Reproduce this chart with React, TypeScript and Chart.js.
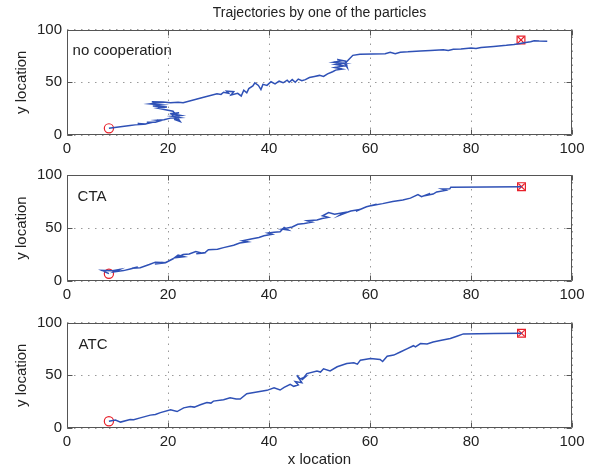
import React, { useEffect, useRef } from "react";
import { Chart, registerables } from "chart.js";
Chart.register(...registerables);

const chartTitle = "Trajectories by one of the particles";
const xAxisTitle = "x location";
const yAxisTitle = "y location";
const xTickValues = [0, 20, 40, 60, 80, 100];
const yTickValues = [0, 50, 100];
const panelLabels = ["no cooperation", "CTA", "ATC"];

// panel 1: no cooperation
const traj1X = [8.3, 12.5, 13.5, 14.8, 14.0, 15.5, 16.5, 15.8, 17.5, 18.5, 17.8, 19.2, 20.5, 22.3, 20.8, 22.5, 21.0, 22.2, 20.6, 22.0, 21.2, 22.4, 21.0, 19.5, 18.0, 19.8, 17.0, 18.8, 16.5, 18.2, 16.8, 19.0, 20.5, 22.0, 23.0, 26.5, 29.7, 30.5, 31.0, 32.0, 31.6, 33.0, 32.5, 33.8, 34.5, 35.0, 35.6, 36.0, 36.8, 37.2, 37.9, 38.4, 38.8, 39.6, 40.4, 41.2, 42.0, 42.8, 43.6, 44.0, 44.6, 45.2, 45.8, 46.5, 47.2, 48.0, 49.0, 50.0, 50.8, 51.6, 52.6, 53.2, 54.5, 53.0, 54.8, 53.2, 55.0, 52.8, 54.5, 53.5, 55.2, 55.5, 55.0, 55.8, 56.6, 58.0, 60.5, 63.0, 64.0, 65.0, 66.0, 67.5, 70.0, 72.0, 74.5, 75.5, 76.5, 78.0, 80.0, 81.0, 82.0, 84.5, 87.0, 88.5, 89.5, 90.5, 91.8, 92.5, 93.5, 95.1];
const traj1Y = [6.3, 9.0, 9.6, 10.0, 10.8, 10.5, 11.5, 12.2, 12.0, 13.5, 14.0, 14.5, 16.0, 16.5, 17.8, 18.5, 19.8, 21.0, 20.2, 13.5, 15.0, 12.8, 22.5, 24.0, 25.5, 26.5, 27.5, 28.5, 29.5, 30.5, 31.5, 31.2, 30.5, 31.0, 30.5, 35.0, 39.0, 38.5, 40.5, 39.5, 41.5, 41.0, 38.0, 39.5, 37.0, 42.5, 40.0, 44.0, 46.5, 49.5, 47.0, 43.0, 48.0, 47.0, 50.5, 48.5, 51.0, 49.5, 52.0, 50.0, 52.5, 50.0, 53.0, 51.5, 52.5, 54.5, 55.5, 56.5, 55.5, 58.0, 60.0, 61.5, 62.5, 64.0, 65.5, 67.0, 68.0, 69.0, 70.5, 71.5, 70.0, 64.0, 67.5, 71.5, 75.5, 76.5, 76.8, 77.0, 78.3, 77.0, 78.5, 78.8, 79.6, 80.2, 80.8, 80.0, 81.2, 81.5, 82.5, 82.0, 83.0, 84.0, 85.0, 85.8, 86.5, 87.5, 88.3, 89.3, 89.0, 88.8];

// panel 2: CTA
const traj2X = [8.3, 6.9, 9.0, 10.4, 9.4, 11.2, 12.7, 14.0, 12.9, 14.5, 16.3, 17.5, 18.9, 17.4, 19.5, 21.0, 22.0, 23.2, 21.8, 23.0, 24.2, 25.5, 26.8, 25.6, 27.4, 28.0, 29.8, 31.0, 33.0, 34.2, 35.8, 34.8, 36.7, 38.0, 39.0, 40.6, 39.8, 41.0, 42.2, 43.0, 43.8, 42.6, 44.6, 45.7, 47.0, 48.5, 47.6, 49.5, 50.5, 51.7, 50.6, 51.8, 53.0, 54.8, 54.0, 55.5, 56.2, 58.0, 57.2, 59.3, 61.3, 60.2, 62.5, 64.5, 66.5, 68.0, 69.5, 70.2, 71.9, 70.8, 72.5, 73.2, 75.0, 74.2, 75.8, 76.0, 83.0, 90.0];
const traj2Y = [7.0, 10.0, 9.6, 10.8, 8.6, 9.8, 11.6, 13.2, 12.0, 12.6, 15.5, 17.8, 17.5, 16.0, 17.2, 21.0, 24.5, 23.0, 22.2, 25.0, 25.5, 27.8, 26.2, 25.6, 27.0, 29.5, 30.0, 31.5, 33.8, 35.8, 37.0, 38.0, 39.8, 41.0, 42.7, 44.0, 45.2, 45.9, 46.5, 50.5, 48.2, 49.0, 51.0, 53.5, 54.2, 55.5, 56.8, 57.5, 59.0, 60.0, 61.5, 64.5, 63.0, 64.5, 62.0, 64.8, 66.0, 67.5, 65.8, 70.0, 72.5, 71.0, 73.0, 75.0, 76.5, 78.2, 81.5, 79.5, 82.6, 80.5, 82.0, 84.0, 85.5, 86.8, 87.0, 88.5, 88.6, 88.8];

// panel 3: ATC
const traj3X = [8.3, 9.6, 10.6, 12.5, 13.2, 14.5, 16.5, 17.5, 18.5, 20.5, 21.8, 23.1, 24.4, 25.2, 26.4, 27.7, 28.5, 29.0, 31.0, 32.3, 33.5, 34.3, 35.6, 37.6, 39.6, 41.0, 42.2, 43.0, 44.2, 44.9, 45.8, 45.2, 46.5, 45.5, 46.2, 47.2, 46.5, 47.5, 49.5, 50.2, 50.8, 52.1, 53.5, 55.4, 56.8, 57.5, 58.1, 60.1, 62.0, 62.5, 63.4, 64.7, 66.0, 67.3, 68.6, 69.0, 70.0, 71.3, 72.5, 73.9, 75.9, 77.2, 78.5, 84.5, 90.0];
const traj3Y = [6.4, 7.6, 5.6, 8.0, 7.8, 9.6, 12.2, 12.8, 14.6, 17.2, 15.6, 19.1, 20.4, 19.8, 22.0, 24.2, 23.6, 25.5, 26.8, 28.7, 27.6, 27.4, 32.5, 34.1, 35.7, 38.2, 36.0, 38.5, 41.4, 39.5, 40.8, 44.0, 43.0, 50.0, 46.5, 48.4, 45.5, 51.6, 54.1, 53.0, 56.1, 54.1, 58.0, 61.1, 61.8, 60.5, 64.3, 65.9, 65.0, 63.0, 68.0, 69.1, 72.0, 75.0, 78.0, 76.8, 80.0, 79.6, 81.5, 83.0, 84.8, 87.0, 89.2, 89.5, 89.8];

const startXs = [8.3, 8.3, 8.3];
const startYs = [6.3, 6.8, 6.4];
const endXs = [89.9, 90.0, 90.0];
const endYs = [90.1, 89.0, 89.8];
const labelXs = [1.1, 2.1, 2.3];
const labelYs = [80, 79, 78.5];

const trajXs = [traj1X, traj2X, traj3X];
const trajYs = [traj1Y, traj2Y, traj3Y];

const FONT = "'Liberation Sans', Arial, Helvetica, sans-serif";
const TEXT = "#222";
const BLUE = "#2f51b6";
const RED = "#e8202a";

const layouts = [
  { top: 0, height: 160, padTop: 29.5, xH: 25 },
  { top: 160, height: 145, padTop: 15, xH: 24 },
  { top: 305, height: 164, padTop: 17.5, xH: 41 },
];

const framePlugin = {
  id: "frame",
  afterDraw(chart: any, _args: any, opts: any) {
    const { ctx, chartArea: a, scales } = chart;
    ctx.save();
    ctx.strokeStyle = "#555";
    ctx.lineWidth = 1;
    const l = Math.round(a.left) + 0.5;
    const r = Math.round(a.right) - 0.5;
    const t = Math.round(a.top) + 0.5;
    const b = Math.round(a.bottom) - 0.5;
    ctx.beginPath();
    ctx.rect(l, t, r - l, b - t);
    const tl = 5;
    xTickValues.forEach((v) => {
      const px = Math.round(scales.x.getPixelForValue(v)) + 0.5;
      ctx.moveTo(px, b);
      ctx.lineTo(px, b - tl);
      ctx.moveTo(px, t);
      ctx.lineTo(px, t + tl);
    });
    yTickValues.forEach((v) => {
      const py = Math.round(scales.y.getPixelForValue(v)) + 0.5;
      ctx.moveTo(l, py);
      ctx.lineTo(l + tl, py);
      ctx.moveTo(r, py);
      ctx.lineTo(r - tl, py);
    });
    ctx.stroke();
    ctx.fillStyle = TEXT;
    ctx.font = `15px ${FONT}`;
    ctx.textAlign = "left";
    ctx.textBaseline = "middle";
    ctx.fillText(opts.label, scales.x.getPixelForValue(opts.lx), scales.y.getPixelForValue(opts.ly));
    if (opts.title) {
      ctx.font = `14px ${FONT}`;
      ctx.textAlign = "center";
      ctx.fillText(opts.title, (a.left + a.right) / 2, 13);
    }
    ctx.restore();
  },
};

function Panel({ idx }: { idx: number }) {
  const ref = useRef<HTMLCanvasElement | null>(null);
  const lay = layouts[idx];
  useEffect(() => {
    if (!ref.current) return;
    const xs = trajXs[idx];
    const ys = trajYs[idx];
    const chart = new Chart(ref.current, {
      type: "scatter",
      data: {
        datasets: [
          {
            data: xs.map((x, i) => ({ x, y: ys[i] })),
            showLine: true,
            borderColor: BLUE,
            borderWidth: 1.5,
            pointRadius: 0,
            tension: 0,
          },
          {
            data: [{ x: startXs[idx], y: startYs[idx] }],
            pointStyle: "circle",
            pointRadius: 4.6,
            borderColor: RED,
            backgroundColor: "rgba(0,0,0,0)",
            borderWidth: 1.2,
          },
          {
            data: [{ x: endXs[idx], y: endYs[idx] }],
            pointStyle: "rect",
            pointRadius: 5.5,
            borderColor: RED,
            backgroundColor: "rgba(0,0,0,0)",
            borderWidth: 1.2,
          },
          {
            data: [{ x: endXs[idx], y: endYs[idx] }],
            pointStyle: "crossRot",
            pointRadius: 4.5,
            borderColor: RED,
            backgroundColor: "rgba(0,0,0,0)",
            borderWidth: 1.2,
          },
        ],
      },
      options: {
        animation: false,
        responsive: false,
        events: [],
        layout: { padding: { top: lay.padTop, right: 22, left: 0, bottom: 0 } },
        plugins: {
          legend: { display: false },
          tooltip: { enabled: false },
          frame: {
            label: panelLabels[idx],
            lx: labelXs[idx],
            ly: labelYs[idx],
            title: idx === 0 ? chartTitle : null,
          },
        } as any,
        scales: {
          x: {
            type: "linear",
            min: 0,
            max: 100,
            afterFit: (s: any) => {
              s.height = lay.xH;
            },
            ticks: {
              stepSize: 20,
              padding: 5,
              maxRotation: 0,
              color: TEXT,
              font: { family: FONT, size: 15 },
            },
            grid: { color: "#9a9a9a", drawTicks: false, lineWidth: 1 },
            border: { display: false, dash: [1.5, 5.5] },
            title: {
              display: idx === 2,
              text: xAxisTitle,
              color: TEXT,
              font: { family: FONT, size: 15 },
              padding: { top: 0, bottom: 0 },
            },
          },
          y: {
            type: "linear",
            min: 0,
            max: 100,
            afterFit: (s: any) => {
              s.width = 67;
            },
            ticks: {
              stepSize: 50,
              padding: 5,
              color: TEXT,
              font: { family: FONT, size: 15 },
            },
            grid: { color: "#9a9a9a", drawTicks: false, lineWidth: 1 },
            border: { display: false, dash: [1.5, 5.5] },
            title: {
              display: true,
              text: yAxisTitle,
              color: TEXT,
              font: { family: FONT, size: 15 },
              padding: { top: 13, bottom: 0 },
            },
          },
        },
      },
      plugins: [framePlugin],
    } as any);
    return () => chart.destroy();
  }, [idx]);
  return (
    <canvas
      ref={ref}
      width={594}
      height={lay.height}
      style={{ position: "absolute", left: 0, top: lay.top, width: 594, height: lay.height }}
    />
  );
}

export default function App() {
  return (
    <div style={{ position: "fixed", left: 0, top: 0, width: 594, height: 469, background: "#fff", overflow: "hidden" }}>
      <Panel idx={0} />
      <Panel idx={1} />
      <Panel idx={2} />
    </div>
  );
}
